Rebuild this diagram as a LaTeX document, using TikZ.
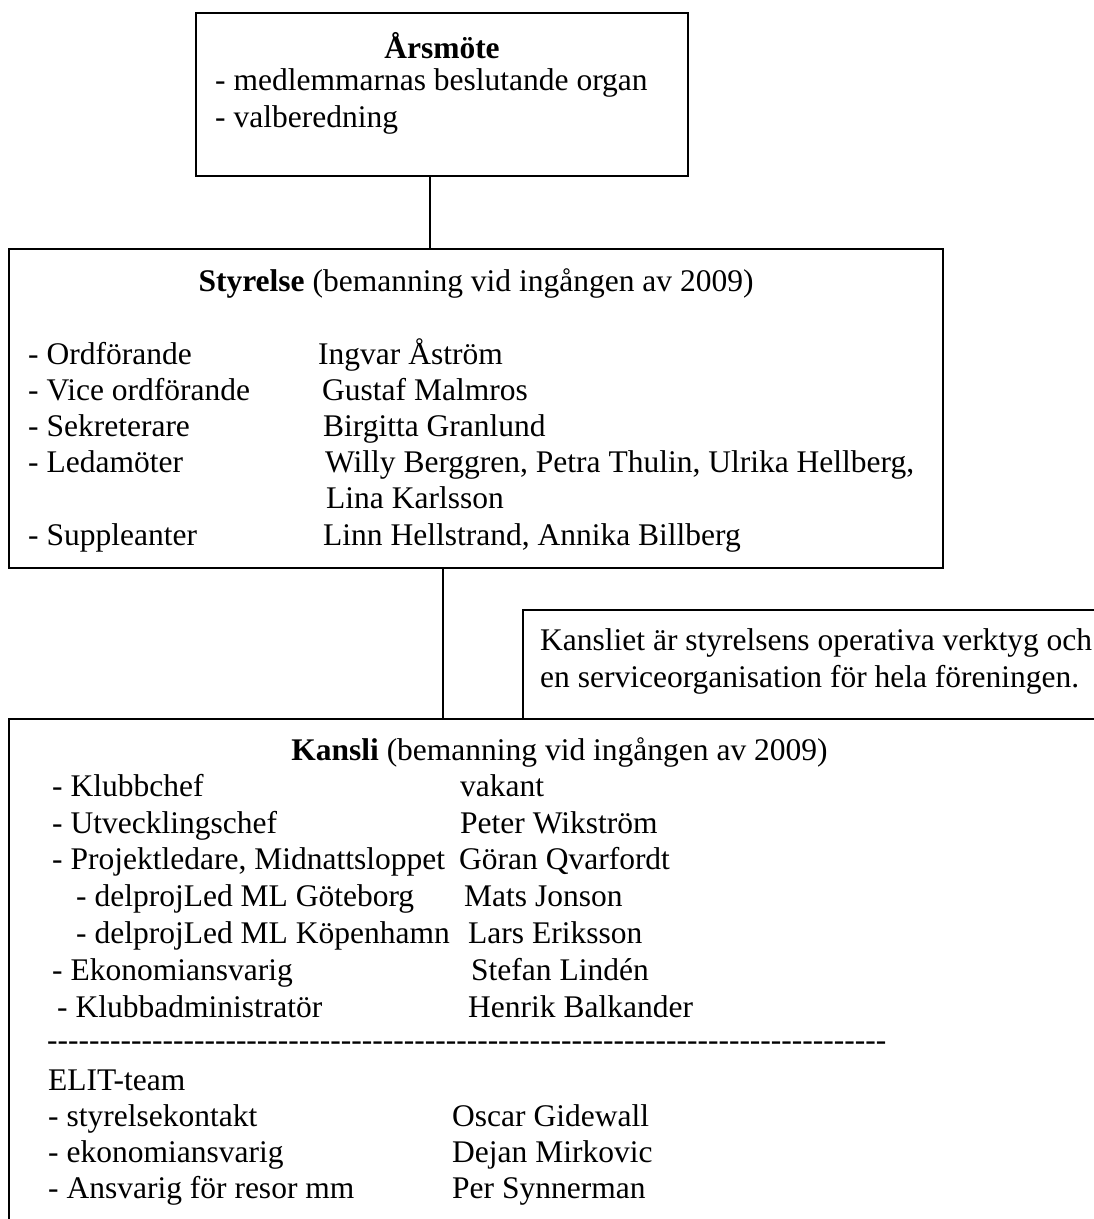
\documentclass[tikz,border=0pt]{standalone}
\usepackage{fontspec}
\setmainfont{Liberation Serif}
\tikzset{
  frame/.style={draw, line width=2.4pt, inner sep=0pt},
  link/.style={line width=2pt},
  txt/.style={anchor=base west, inner sep=0pt, font=\fontsize{31.5}{36}\selectfont},
  head/.style={anchor=base, inner sep=0pt, font=\fontsize{31.5}{36}\selectfont},
}
\begin{document}
\begin{tikzpicture}[x=1pt,y=-1pt]
  \useasboundingbox (0,0) rectangle (1094,1219);
  \clip (0,0) rectangle (1094,1219);
  \node[frame, minimum width=492pt, minimum height=163pt] (arsmote) at (442,94.5) {};
  \node[frame, minimum width=934pt, minimum height=319pt] (styrelse) at (476,408.5) {};
  \node[frame, minimum width=597pt, minimum height=109pt] (note) at (821.5,664.5) {};
  \node[frame, minimum width=1111pt, minimum height=521pt] (kansli) at (564.5,979.5) {};
  \coordinate (c1) at (430,0);
  \coordinate (c2) at (443,0);
  \draw[link] (arsmote.south -| c1) -- (styrelse.north -| c1);
  \draw[link] (styrelse.south -| c2) -- (kansli.north -| c2);

  \node[head] (arstitle) at (442,58) {\textbf{Årsmöte}};
  \node[txt] (ars1) at (215,90) {- medlemmarnas beslutande organ};
  \node[txt] (ars2) at (215,127) {- valberedning};

  \node[head] (stytitle) at (476,291) {\textbf{Styrelse} (bemanning vid ingången av 2009)};
  \node[txt] (sty1) at (28,364) {- Ordförande};
  \node[txt] (sty1n) at (318,364) {Ingvar Åström};
  \node[txt] (sty2) at (28,400) {- Vice ordförande};
  \node[txt] (sty2n) at (322,400) {Gustaf Malmros};
  \node[txt] (sty3) at (28,436) {- Sekreterare};
  \node[txt] (sty3n) at (323,436) {Birgitta Granlund};
  \node[txt] (sty4) at (28,472) {- Ledamöter};
  \node[txt] (sty4n) at (325,472) {Willy Berggren, Petra Thulin, Ulrika Hellberg,};
  \node[txt] (sty4m) at (326,508) {Lina Karlsson};
  \node[txt] (sty5) at (28,545) {- Suppleanter};
  \node[txt] (sty5n) at (323,545) {Linn Hellstrand, Annika Billberg};

  \node[txt] (note1) at (540,650) {Kansliet är styrelsens operativa verktyg och};
  \node[txt] (note2) at (540,687) {en serviceorganisation för hela föreningen.};

  \node[head] (kantitle) at (559.5,760) {\textbf{Kansli} (bemanning vid ingången av 2009)};
  \node[txt] (kan1) at (52,796) {- Klubbchef};
  \node[txt] (kan1n) at (460,796) {vakant};
  \node[txt] (kan2) at (52,833) {- Utvecklingschef};
  \node[txt] (kan2n) at (460,833) {Peter Wikström};
  \node[txt] (kan3) at (52,869) {- Projektledare, Midnattsloppet};
  \node[txt] (kan3n) at (459,869) {Göran Qvarfordt};
  \node[txt] (kan4) at (76,906) {- delprojLed ML Göteborg};
  \node[txt] (kan4n) at (464,906) {Mats Jonson};
  \node[txt] (kan5) at (76,943) {- delprojLed ML Köpenhamn};
  \node[txt] (kan5n) at (468,943) {Lars Eriksson};
  \node[txt] (kan6) at (52,980) {- Ekonomiansvarig};
  \node[txt] (kan6n) at (471,980) {Stefan Lindén};
  \node[txt] (kan7) at (57,1017) {- Klubbadministratör};
  \node[txt] (kan7n) at (468,1017) {Henrik Balkander};
  \node[txt] (dashes) at (47,1050) {\foreach \i in {1,...,80}{-\kern0pt}};

  \node[txt] (elit) at (48,1090) {ELIT-team};
  \node[txt] (elit1) at (48,1126) {- styrelsekontakt};
  \node[txt] (elit1n) at (452,1126) {Oscar Gidewall};
  \node[txt] (elit2) at (48,1162) {- ekonomiansvarig};
  \node[txt] (elit2n) at (452,1162) {Dejan Mirkovic};
  \node[txt] (elit3) at (48,1198) {- Ansvarig för resor mm};
  \node[txt] (elit3n) at (452,1198) {Per Synnerman};
\end{tikzpicture}
\end{document}
